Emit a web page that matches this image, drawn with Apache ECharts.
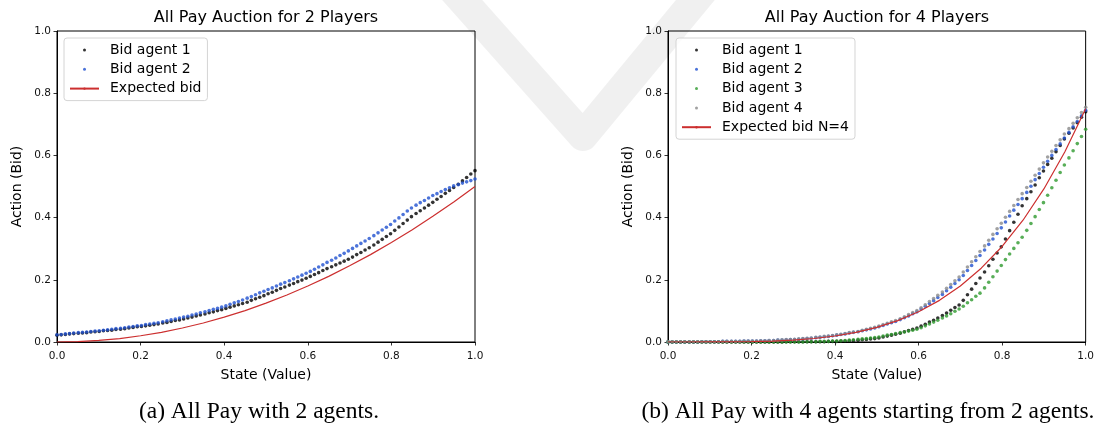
<!DOCTYPE html>
<html>
<head>
<meta charset="utf-8">
<script src="https://cdn.jsdelivr.net/npm/echarts@6/dist/echarts.min.js"></script>
<style>
  html, body { margin: 0; padding: 0; background: #fff; }
  #chart { width: 1097px; height: 428px; }
</style>
</head>
<body>
<div id="chart"></div>
<script>
// ---------- data ----------
const stateValues = [
0.000,0.010,0.020,0.030,0.040,0.051,0.061,0.071,0.081,0.091,
0.101,0.111,0.121,0.131,0.141,0.152,0.162,0.172,0.182,0.192,
0.202,0.212,0.222,0.232,0.242,0.253,0.263,0.273,0.283,0.293,
0.303,0.313,0.323,0.333,0.343,0.354,0.364,0.374,0.384,0.394,
0.404,0.414,0.424,0.434,0.444,0.455,0.465,0.475,0.485,0.495,
0.505,0.515,0.525,0.535,0.545,0.556,0.566,0.576,0.586,0.596,
0.606,0.616,0.626,0.636,0.646,0.657,0.667,0.677,0.687,0.697,
0.707,0.717,0.727,0.737,0.747,0.758,0.768,0.778,0.788,0.798,
0.808,0.818,0.828,0.838,0.848,0.859,0.869,0.879,0.889,0.899,
0.909,0.919,0.929,0.939,0.949,0.960,0.970,0.980,0.990,1.000];

// 2-player chart
const p2Agent1 = [
0.022,0.023,0.024,0.026,0.027,0.028,0.029,0.030,0.032,0.033,
0.034,0.036,0.037,0.038,0.040,0.041,0.043,0.045,0.047,0.049,
0.050,0.052,0.054,0.056,0.058,0.061,0.063,0.066,0.069,0.071,
0.074,0.077,0.080,0.084,0.087,0.090,0.094,0.097,0.101,0.104,
0.108,0.112,0.116,0.120,0.124,0.128,0.134,0.139,0.144,0.149,
0.155,0.160,0.166,0.172,0.177,0.183,0.188,0.194,0.199,0.205,
0.211,0.217,0.223,0.230,0.236,0.242,0.248,0.254,0.260,0.266,
0.273,0.281,0.288,0.296,0.303,0.312,0.321,0.330,0.339,0.348,
0.359,0.370,0.381,0.392,0.403,0.413,0.422,0.431,0.440,0.449,
0.459,0.468,0.478,0.487,0.497,0.507,0.518,0.529,0.540,0.551];
const p2Agent2 = [
0.023,0.024,0.026,0.027,0.029,0.030,0.031,0.032,0.034,0.035,
0.036,0.038,0.039,0.041,0.043,0.044,0.046,0.048,0.050,0.052,
0.053,0.056,0.058,0.060,0.062,0.065,0.068,0.071,0.074,0.077,
0.080,0.083,0.087,0.090,0.094,0.097,0.101,0.105,0.108,0.112,
0.116,0.121,0.126,0.130,0.135,0.141,0.146,0.152,0.158,0.163,
0.169,0.174,0.180,0.186,0.191,0.197,0.203,0.209,0.215,0.221,
0.227,0.234,0.241,0.248,0.256,0.263,0.270,0.278,0.285,0.293,
0.301,0.309,0.317,0.325,0.333,0.342,0.351,0.360,0.369,0.378,
0.389,0.399,0.410,0.421,0.431,0.440,0.448,0.455,0.463,0.471,
0.477,0.484,0.490,0.496,0.502,0.506,0.511,0.515,0.519,0.524];
const expectedStates = [0,0.05,0.1,0.15,0.2,0.25,0.3,0.35,0.4,0.45,0.5,0.55,0.6,0.65,0.7,0.75,0.8,0.85,0.9,0.95,1.0];
const expectedBid2 = [0,0.001,0.005,0.011,0.020,0.031,0.045,0.061,0.080,0.101,0.125,0.151,0.180,0.211,0.245,0.281,0.320,0.361,0.405,0.451,0.500];

// 4-player chart
const p4Agent1 = [
0,0,0,0,0,0,0,0,0,0,
0,0,0,0,0,0,0,0,0,0,
0,0,0,0,0,0,0,0,0.001,0.001,
0.001,0.001,0.001,0.001,0.001,0.001,0.001,0.001,0.002,0.002,
0.002,0.003,0.003,0.004,0.005,0.006,0.007,0.008,0.010,0.011,
0.013,0.016,0.019,0.022,0.025,0.028,0.033,0.037,0.041,0.045,
0.051,0.057,0.064,0.070,0.077,0.085,0.093,0.102,0.111,0.119,
0.134,0.152,0.170,0.188,0.206,0.225,0.245,0.266,0.286,0.306,
0.331,0.358,0.385,0.411,0.438,0.461,0.483,0.505,0.528,0.550,
0.571,0.591,0.612,0.632,0.653,0.671,0.688,0.705,0.723,0.740];
const p4Agent2 = [
0,0,0,0,0,0,0,0,0.001,0.001,
0.001,0.001,0.001,0.002,0.002,0.002,0.002,0.002,0.003,0.003,
0.003,0.003,0.004,0.004,0.005,0.005,0.006,0.006,0.007,0.008,
0.008,0.009,0.010,0.011,0.012,0.014,0.015,0.017,0.018,0.020,
0.022,0.024,0.026,0.029,0.031,0.033,0.036,0.039,0.042,0.045,
0.049,0.053,0.058,0.062,0.066,0.072,0.078,0.084,0.091,0.097,
0.106,0.115,0.124,0.133,0.143,0.153,0.165,0.176,0.188,0.200,
0.214,0.230,0.246,0.262,0.278,0.296,0.314,0.331,0.349,0.367,
0.386,0.405,0.424,0.442,0.461,0.481,0.501,0.522,0.542,0.562,
0.581,0.600,0.619,0.637,0.656,0.674,0.692,0.709,0.727,0.745];
const p4Agent3 = [
0,0,0,0,0,0,0,0,0,0,
0,0,0,0,0,0,0,0,0,0,
0,0,0,0,0,0,0,0,0,0,
0,0,0,0.001,0.001,0.001,0.002,0.002,0.002,0.003,
0.003,0.004,0.005,0.006,0.007,0.009,0.010,0.011,0.013,0.014,
0.016,0.019,0.022,0.024,0.027,0.030,0.032,0.035,0.038,0.041,
0.046,0.052,0.058,0.064,0.070,0.077,0.084,0.091,0.099,0.106,
0.115,0.126,0.136,0.147,0.157,0.174,0.192,0.210,0.228,0.246,
0.265,0.283,0.301,0.319,0.337,0.359,0.381,0.403,0.426,0.448,
0.472,0.496,0.520,0.545,0.569,0.592,0.615,0.638,0.661,0.684];
const p4Agent4 = [
0.001,0.001,0.001,0.001,0.001,0.001,0.001,0.001,0.001,0.001,
0.001,0.001,0.001,0.002,0.002,0.002,0.002,0.002,0.003,0.003,
0.003,0.003,0.004,0.004,0.005,0.005,0.006,0.007,0.008,0.008,
0.009,0.010,0.011,0.012,0.013,0.015,0.016,0.018,0.019,0.021,
0.023,0.025,0.027,0.030,0.032,0.034,0.038,0.041,0.044,0.047,
0.051,0.056,0.060,0.065,0.069,0.075,0.081,0.088,0.095,0.101,
0.110,0.120,0.130,0.140,0.150,0.161,0.173,0.185,0.197,0.209,
0.225,0.241,0.258,0.274,0.291,0.309,0.327,0.346,0.364,0.382,
0.401,0.420,0.439,0.458,0.477,0.497,0.517,0.536,0.556,0.576,
0.595,0.613,0.632,0.650,0.669,0.686,0.703,0.721,0.738,0.755];
const expectedBid4 = [0,0,0.0001,0.0004,0.0012,0.0029,0.0061,0.0113,0.0192,0.0308,0.0469,0.0686,0.0972,0.1339,0.1801,0.2373,0.3072,0.3915,0.4921,0.6109,0.75];

const axisTicks = [0, 0.2, 0.4, 0.6, 0.8, 1.0];

const titles = ['All Pay Auction for 2 Players', 'All Pay Auction for 4 Players'];
const captions = ['(a) All Pay with 2 agents.', '(b) All Pay with 4 agents starting from 2 agents.'];
const legend2 = ['Bid agent 1', 'Bid agent 2', 'Expected bid'];
const legend4 = ['Bid agent 1', 'Bid agent 2', 'Bid agent 3', 'Bid agent 4', 'Expected bid N=4'];

// ---------- chart ----------
const FONT = 'DejaVu Sans';
const COLORS = { a1: '#000000', a2: '#1f50d0', a3: '#2e9a2e', a4: '#8a8a8a', exp: '#cc2f2f' };

const chart = echarts.init(document.getElementById('chart'), null, { renderer: 'canvas' });
const pairs = arr => stateValues.map((x, i) => [x, arr[i]]);
const pairsE = arr => expectedStates.map((x, i) => [x, arr[i]]);

function makeAxis(idx, isX) {
  return {
    type: 'value', gridIndex: idx, min: axisTicks[0], max: axisTicks[axisTicks.length - 1],
    interval: axisTicks[1] - axisTicks[0],
    name: isX ? 'State (Value)' : 'Action (Bid)',
    nameLocation: 'middle', nameGap: isX ? 26 : 33,
    nameTextStyle: { fontFamily: FONT, fontSize: 14, color: '#000' },
    axisLine: { show: true, onZero: false, lineStyle: { color: '#000', width: 1 } },
    axisTick: { show: true, length: 3.5, lineStyle: { color: '#000', width: 0.8 } },
    axisLabel: { fontFamily: FONT, fontSize: 10.5, color: '#111', margin: isX ? 9 : 6,
                 formatter: v => v.toFixed(1) },
    splitLine: { show: false }
  };
}

function scatter(name, arr, color, idx) {
  return {
    type: 'scatter', name, data: pairs(arr), xAxisIndex: idx, yAxisIndex: idx,
    symbol: 'circle', symbolSize: 3.6, itemStyle: { color }, z: 2, silent: true, animation: false
  };
}
function expLine(name, arr, idx) {
  return {
    type: 'line', name, data: pairsE(arr), xAxisIndex: idx, yAxisIndex: idx,
    smooth: false, showSymbol: false, symbol: 'none',
    lineStyle: { color: COLORS.exp, width: 1.2 }, itemStyle: { color: COLORS.exp },
    z: 3, silent: true, animation: false
  };
}

function legendCfg(left, names, icons) {
  return {
    orient: 'vertical', left, top: 38,
    padding: [5, 6, 5, 5], itemGap: 5.3, itemWidth: 29, itemHeight: 3,
    backgroundColor: 'rgba(255,255,255,0.8)', borderColor: '#d4d4d4', borderWidth: 1, borderRadius: 3,
    textStyle: { fontFamily: FONT, fontSize: 14, color: '#000', padding: [0, 0, 0, 6] },
    selectedMode: false,
    data: names.map((n, i) => icons[i] ? { name: n, icon: 'circle' } : { name: n })
  };
}

const option = {
  backgroundColor: '#fff',
  animation: false,
  title: [
    { text: titles[0], left: 266, top: 10, textAlign: 'center', padding: 0,
      textStyle: { fontFamily: FONT, fontSize: 16, fontWeight: 'normal', color: '#000' } },
    { text: titles[1], left: 877, top: 10, textAlign: 'center', padding: 0,
      textStyle: { fontFamily: FONT, fontSize: 16, fontWeight: 'normal', color: '#000' } },
    { text: captions[0], left: 259, top: 400, textAlign: 'center', padding: 0,
      textStyle: { fontFamily: 'Liberation Serif', fontSize: 23.5, fontWeight: 'normal', color: '#000' } },
    { text: captions[1], left: 868, top: 400, textAlign: 'center', padding: 0,
      textStyle: { fontFamily: 'Liberation Serif', fontSize: 23.5, fontWeight: 'normal', color: '#000' } }
  ],
  graphic: [{
    type: 'polyline', z: 0, silent: true,
    shape: { points: [[440, -25], [583, 136], [716, -25]] },
    style: { stroke: 'rgba(0,0,0,0.06)', lineWidth: 30, fill: null, lineJoin: 'round' }
  }],
  grid: [
    { left: 57, top: 31, width: 418, height: 311, show: true, borderColor: '#000', borderWidth: 1, backgroundColor: 'transparent' },
    { left: 668, top: 31, width: 418, height: 311, show: true, borderColor: '#000', borderWidth: 1, backgroundColor: 'transparent' }
  ],
  xAxis: [makeAxis(0, true), makeAxis(1, true)],
  yAxis: [makeAxis(0, false), makeAxis(1, false)],
  legend: [
    legendCfg(64, legend2, [true, true, false]),
    legendCfg(676, legend4, [true, true, true, true, false])
  ],
  series: [
    scatter(legend2[0], p2Agent1, COLORS.a1, 0),
    scatter(legend2[1], p2Agent2, COLORS.a2, 0),
    expLine(legend2[2], expectedBid2, 0),
    scatter(legend4[0], p4Agent1, COLORS.a1, 1),
    scatter(legend4[1], p4Agent2, COLORS.a2, 1),
    scatter(legend4[2], p4Agent3, COLORS.a3, 1),
    scatter(legend4[3], p4Agent4, COLORS.a4, 1),
    expLine(legend4[4], expectedBid4, 1)
  ]
};
chart.setOption(option);
</script>
</body>
</html>
